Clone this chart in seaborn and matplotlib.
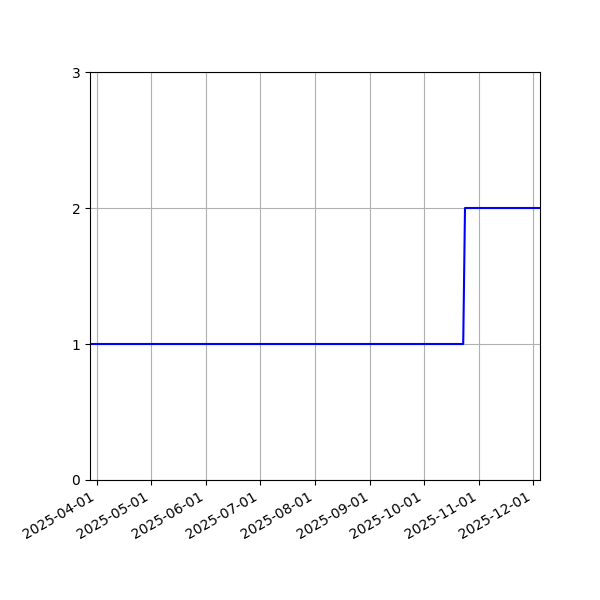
import seaborn as sns
import matplotlib.pyplot as plt
import matplotlib.dates as mdates
import pandas as pd

# step data
dates = ['2025-03-28', '2025-10-23', '2025-10-24', '2025-12-05']
counts = [1, 1, 2, 2]

df = pd.DataFrame({'date': pd.to_datetime(dates), 'count': counts})

fig, ax = plt.subplots(figsize=(6, 6), dpi=100)
sns.lineplot(data=df, x='date', y='count', color='blue', ax=ax)

ax.set_xlim(df['date'].min(), df['date'].max())
ax.set_ylim(0, 3)
ax.set_yticks([0, 1, 2, 3])
ax.xaxis.set_major_locator(mdates.MonthLocator())
ax.xaxis.set_major_formatter(mdates.DateFormatter('%Y-%m-%d'))
ax.grid(True)
ax.set_xlabel('')
ax.set_ylabel('')
fig.autofmt_xdate()
plt.subplots_adjust(left=0.15, right=0.9, top=0.88, bottom=0.2)
plt.savefig('out.png')
